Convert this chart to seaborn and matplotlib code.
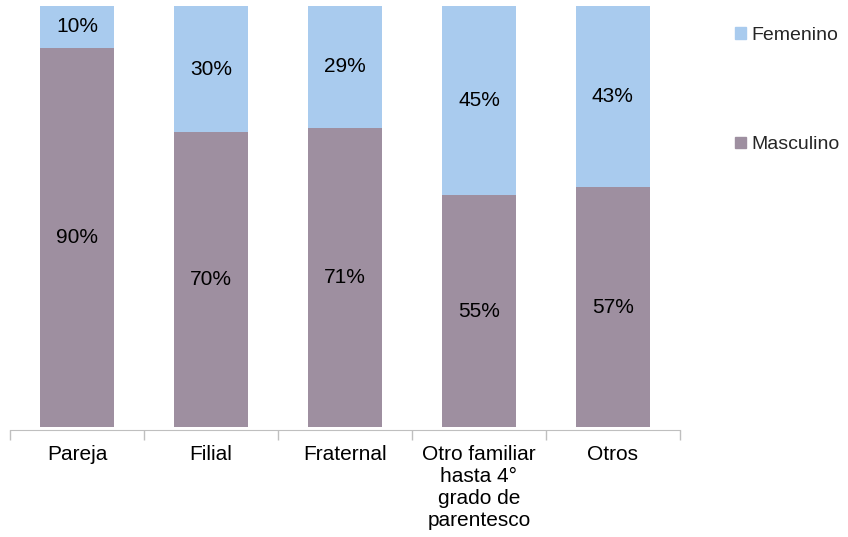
import matplotlib
matplotlib.use("Agg")
import matplotlib.pyplot as plt
import seaborn as sns
from matplotlib.patches import Patch

# Data
categorias = ["Pareja", "Filial", "Fraternal",
              "Otro familiar\nhasta 4°\ngrado de\nparentesco", "Otros"]
masculino = [90, 70, 71, 55, 57]
femenino = [10, 30, 29, 45, 43]

col_masc = "#9E8FA0"
col_fem = "#A9CBEE"
fs = 15

sns.set_style("white")
plt.rcParams["font.family"] = ["Liberation Sans", "DejaVu Sans"]

fig = plt.figure(figsize=(8.48, 5.37), dpi=100)
ax = fig.add_axes([0.0118, 0.199, 0.79, 0.79])

totales = [m + f for m, f in zip(masculino, femenino)]
sns.barplot(x=categorias, y=totales, color=col_fem, width=0.55,
            saturation=1, linewidth=0, ax=ax)
sns.barplot(x=categorias, y=masculino, color=col_masc, width=0.55,
            saturation=1, linewidth=0, ax=ax)

# Labels inside the segments
for i, (m, f) in enumerate(zip(masculino, femenino)):
    ax.text(i, m / 2, f"{m}%", ha="center", va="center", fontsize=fs, color="#000000")
    ax.text(i, m + f / 2, f"{f}%", ha="center", va="center", fontsize=fs, color="#000000")

ax.set_xlim(-0.5, 4.5)
ax.set_ylim(-0.7, 100)
ax.set_yticks([])
ax.set_xlabel("")
ax.set_ylabel("")
for s in ["top", "right", "left"]:
    ax.spines[s].set_visible(False)
ax.spines["bottom"].set_color("#BFBFBF")
ax.set_xticks(range(5))
ax.set_xticklabels(categorias, fontsize=fs)
ax.set_xticks([x - 0.5 for x in range(6)], minor=True)
ax.tick_params(axis="x", which="major", bottom=False, length=0, pad=11, colors="#000000")
ax.tick_params(axis="x", which="minor", bottom=True, length=7, width=1, color="#BFBFBF")

handles = [Patch(color=col_fem, label="Femenino"),
           Patch(color=col_masc, label="Masculino")]
fig.legend(handles=handles, loc="upper left", bbox_to_anchor=(0.858, 0.964),
           frameon=False, fontsize=14, handlelength=0.55, handleheight=0.55,
           handletextpad=0.25, labelspacing=4.75, borderaxespad=0)

plt.savefig("out.png", dpi=100)
